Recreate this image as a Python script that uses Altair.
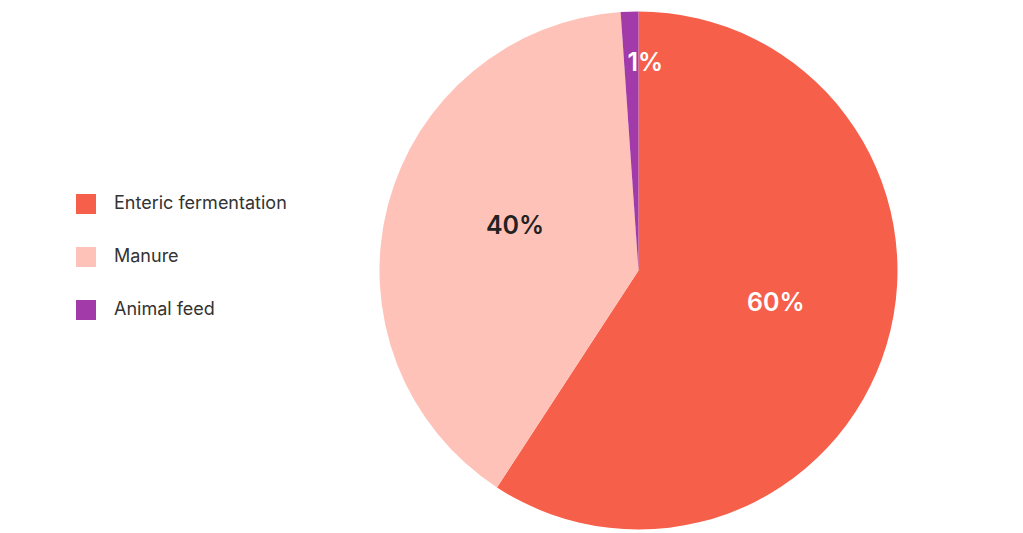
import altair as alt
import pandas as pd

categories = ["Enteric fermentation", "Manure", "Animal feed"]
values = [59.2, 39.7, 1.1]
labels = ["60%", "40%", "1%"]
colors = ["#F6604B", "#FFC2B8", "#A23AAA"]

df = pd.DataFrame({"category": categories, "value": values, "label": labels,
                   "order": list(range(len(categories)))})

CX, CY = 630.5, 262.5

arcs = alt.Chart(df).mark_arc(outerRadius=259, stroke=None).encode(
    theta=alt.Theta("value:Q", stack=True),
    order=alt.Order("order:Q"),
    x=alt.value(CX), y=alt.value(CY),
    color=alt.Color("category:N", sort=categories,
                    scale=alt.Scale(domain=categories, range=colors),
                    legend=alt.Legend(title=None, orient="none", legendX=68, legendY=186,
                                      symbolType="square", symbolSize=400,
                                      symbolStrokeWidth=0, labelFontSize=18,
                                      labelFont="Inter", labelColor="#333333",
                                      labelLimit=400,
                                      labelOffset=18, rowPadding=33, padding=0)),
)


def label_layer(cat, radius, dx, dy, color):
    return alt.Chart(df).transform_window(
        cum="sum(value)", sort=[alt.SortField("order")]
    ).transform_joinaggregate(total="sum(value)").transform_calculate(
        mid="(datum.cum - datum.value/2) / datum.total"
    ).transform_filter(alt.datum.category == cat).mark_text(
        radius=radius, dx=dx, dy=dy, font="Inter", fontSize=25, fontWeight=600, color=color
    ).encode(
        theta=alt.Theta("mid:Q", stack=False, scale=alt.Scale(domain=[0, 1], range=[0, 6.2832])),
        x=alt.value(CX), y=alt.value(CY),
        text="label:N",
    )


lab60 = label_layer("Enteric fermentation", 140, 3, -7, "#FFFFFF")
lab40 = label_layer("Manure", 140, 12, -9, "#222222")
lab1 = label_layer("Animal feed", 208, 14, 0, "#FFFFFF")

chart = alt.layer(arcs, lab60, lab40, lab1).resolve_scale(theta="independent").properties(
    width=1007, height=517, padding=0
).configure_view(stroke=None)

chart.save("out.html", embed_options={"renderer": "svg", "actions": False})
